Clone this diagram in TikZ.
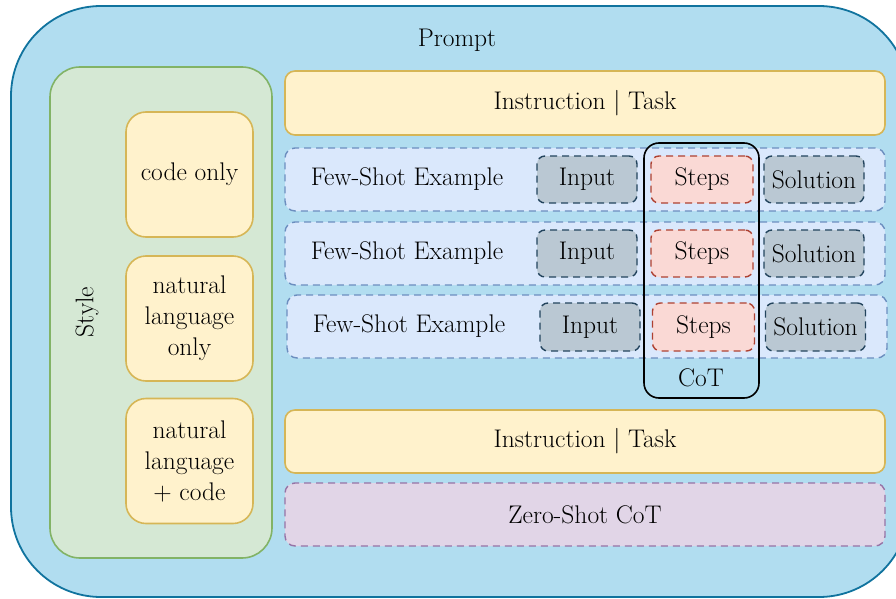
\documentclass[tikz,border=0pt]{standalone}
\usepackage{fontspec}
\definecolor{outerfill}{HTML}{B1DDF0}
\definecolor{outerline}{HTML}{10739E}
\definecolor{greenfill}{HTML}{D5E8D4}
\definecolor{greenline}{HTML}{82B366}
\definecolor{yelfill}{HTML}{FFF2CC}
\definecolor{yelline}{HTML}{D6B656}
\definecolor{rowfill}{HTML}{DAE8FC}
\definecolor{rowline}{HTML}{6C8EBF}
\definecolor{grayfill}{HTML}{BAC8D3}
\definecolor{grayline}{HTML}{23445D}
\definecolor{redfill}{HTML}{FAD9D5}
\definecolor{redline}{HTML}{AE4132}
\definecolor{purpfill}{HTML}{E1D5E7}
\definecolor{purpline}{HTML}{9673A6}
\begin{document}
\begin{tikzpicture}[x=1pt,y=-1pt,
  every node/.style={font=\fontsize{25.5}{31}\selectfont, inner sep=0pt, align=center},
  dsh/.style={dash pattern=on 7pt off 5pt},
  ybox/.style={draw=yelline, fill=yelfill, line width=1.6pt, rounded corners=10pt, minimum width=600pt, minimum height=63pt},
  sbox/.style={draw=yelline, fill=yelfill, line width=1.6pt, rounded corners=20pt, minimum width=127pt, minimum height=125pt},
  rowbox/.style={draw=rowline, fill=rowfill, line width=1.4pt, dsh, rounded corners=10pt, minimum width=600pt, minimum height=63pt},
  ibox/.style={draw=grayline, fill=grayfill, line width=1.4pt, dsh, rounded corners=8pt, minimum width=100pt, minimum height=47pt},
  stbox/.style={draw=redline, fill=redfill, line width=1.4pt, dsh, rounded corners=8pt, minimum width=102pt, minimum height=47pt},
  zbox/.style={draw=purpline, fill=purpfill, line width=1.4pt, dsh, rounded corners=10pt, minimum width=600pt, minimum height=63pt},
  lbl/.style={}
]
\useasboundingbox (0,0) rectangle (896,599);
\clip (0,0) rectangle (896,599);
% outer prompt box
\draw[draw=outerline, fill=outerfill, line width=1.8pt, rounded corners=90pt] (11,6) rectangle (909,597);
\node[lbl] (prompt) at (457,40) {Prompt};
% style panel
\draw[draw=greenline, fill=greenfill, line width=1.6pt, rounded corners=30pt] (50,67) rectangle (272,558);
\node[lbl, rotate=90] (style) at (87,312) {Style};
\node[sbox] (code) at (189.5,174.5) {code only};
\node[sbox] (nlonly) at (189.5,318.5) {natural\\language\\only};
\node[sbox] (nlcode) at (189.5,461) {natural\\language\\+ code};
% top instruction
\node[ybox, minimum height=64pt] (ins1) at (585,103) {Instruction | Task};
% few-shot rows
\node[rowbox] (row1) at (585,179.5) {};
\node[lbl] (fs1) at (407,179) {Few-Shot Example};
\node[ibox] (in1) at (587,179.5) {Input};
\node[stbox] (st1) at (702,179.5) {Steps};
\node[ibox] (so1) at (814,179.5) {Solution};
\node[rowbox] (row2) at (585,253.5) {};
\node[lbl] (fs2) at (407,253) {Few-Shot Example};
\node[ibox] (in2) at (587,253.5) {Input};
\node[stbox] (st2) at (702,253.5) {Steps};
\node[ibox] (so2) at (814,253.5) {Solution};
\node[rowbox] (row3) at (587,326.5) {};
\node[lbl] (fs3) at (409,326) {Few-Shot Example};
\node[ibox, minimum height=48pt] (in3) at (590,327) {Input};
\node[stbox, minimum height=48pt] (st3) at (703.5,327) {Steps};
\node[ibox, minimum height=48pt] (so3) at (815.5,327) {Solution};
% CoT bracket box
\draw[black, line width=1.6pt, rounded corners=15pt] (644,143) rectangle (759,398);
\node[lbl] (cot) at (701,378) {CoT};
% bottom instruction and zero-shot
\node[ybox] (ins2) at (585,441.5) {Instruction | Task};
\node[zbox] (zero) at (585,514.5) {Zero-Shot CoT};
\end{tikzpicture}
\end{document}
